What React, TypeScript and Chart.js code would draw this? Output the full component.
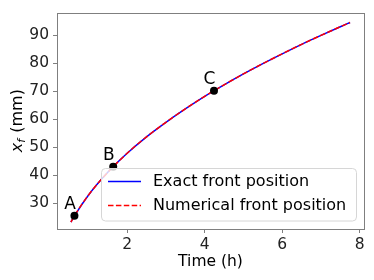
import React, { useEffect, useRef } from 'react';
import { Chart, registerables } from 'chart.js';
Chart.register(...registerables);

const timeH = [0.55, 0.64, 1, 1.5, 2, 2.5, 3, 3.5, 4, 4.5, 5, 5.5, 6, 6.5, 7, 7.5, 7.75];
const exactFront = [23.2, 25.4, 32.8, 41.0, 47.8, 53.7, 58.9, 63.7, 68.2, 72.3, 76.2, 79.9, 83.4, 86.8, 90.0, 93.1, 94.6];
const numericalFront = [23.2, 25.4, 32.8, 41.0, 47.8, 53.7, 58.9, 63.7, 68.2, 72.3, 76.2, 79.9, 83.4, 86.8, 90.0, 93.1, 94.6];
const markerLabels = ['A', 'B', 'C'];
const markerTimes = [0.64, 1.64, 4.24];
const markerFront = [25.4, 43.0, 70.2];
const xTicks = [2, 4, 6, 8];
const yTicks = [30, 40, 50, 60, 70, 80, 90];
const seriesNames = ['Exact front position', 'Numerical front position'];

const FONT = 'DejaVu Sans';
const SPINE = '#7f7f7f';

const overlayPlugin = {
  id: 'overlay',
  afterDraw(chart: any) {
    const ctx = chart.ctx as CanvasRenderingContext2D;
    const a = chart.chartArea;
    ctx.save();
    // frame
    ctx.strokeStyle = SPINE;
    ctx.lineWidth = 1;
    ctx.strokeRect(Math.round(a.left) + 0.5, Math.round(a.top) + 0.5, Math.round(a.right - a.left), Math.round(a.bottom - a.top));

    // marker labels
    const meta = chart.getDatasetMeta(0);
    ctx.fillStyle = '#000';
    ctx.font = `17px "${FONT}"`;
    ctx.textAlign = 'right';
    ctx.textBaseline = 'alphabetic';
    meta.data.forEach((el: any, i: number) => {
      ctx.fillText(markerLabels[i], el.x + 1.5, el.y - 7);
    });

    // legend
    const lx = 101.5, ly = 168.5, lw = 255, lh = 52.5, r = 4;
    ctx.beginPath();
    ctx.moveTo(lx + r, ly);
    ctx.arcTo(lx + lw, ly, lx + lw, ly + lh, r);
    ctx.arcTo(lx + lw, ly + lh, lx, ly + lh, r);
    ctx.arcTo(lx, ly + lh, lx, ly, r);
    ctx.arcTo(lx, ly, lx + lw, ly, r);
    ctx.closePath();
    ctx.fillStyle = 'rgba(255,255,255,0.8)';
    ctx.fill();
    ctx.strokeStyle = '#d6d6d6';
    ctx.lineWidth = 1;
    ctx.stroke();
    const rows = [181.5, 205.5];
    const colors = ['#0000ff', '#ff0000'];
    rows.forEach((ry, i) => {
      ctx.beginPath();
      ctx.strokeStyle = colors[i];
      ctx.lineWidth = 1.5;
      ctx.setLineDash(i === 1 ? [5.5, 2.4] : []);
      ctx.moveTo(108, ry);
      ctx.lineTo(141, ry);
      ctx.stroke();
      ctx.setLineDash([]);
      ctx.fillStyle = '#000';
      ctx.font = `16px "${FONT}"`;
      ctx.textAlign = 'left';
      ctx.textBaseline = 'middle';
      ctx.fillText(seriesNames[i], 153, ry);
    });

    // x title
    ctx.fillStyle = '#000';
    ctx.font = `15.5px "${FONT}"`;
    ctx.textAlign = 'center';
    ctx.textBaseline = 'middle';
    ctx.fillText('Time (h)', (a.left + a.right) / 2, 262);

    // y title with subscript
    ctx.translate(16, (a.top + a.bottom) / 2);
    ctx.rotate(-Math.PI / 2);
    const f1 = `italic 16px "${FONT}"`;
    const f2 = `italic 11px "${FONT}"`;
    const f3 = `16px "${FONT}"`;
    ctx.font = f1; const wx = ctx.measureText('x').width;
    ctx.font = f2; const wf = ctx.measureText('f').width;
    ctx.font = f3; const wr = ctx.measureText(' (mm)').width;
    let x0 = -(wx + wf + wr) / 2;
    ctx.textAlign = 'left';
    ctx.textBaseline = 'alphabetic';
    const base = 5.5;
    ctx.font = f1; ctx.fillText('x', x0, base); x0 += wx;
    ctx.font = f2; ctx.fillText('f', x0, base + 3); x0 += wf + 1;
    ctx.font = f3; ctx.fillText(' (mm)', x0, base);
    ctx.restore();
  },
};

export default function App() {
  const ref = useRef<HTMLCanvasElement | null>(null);
  useEffect(() => {
    document.body.style.margin = '0';
    const canvas = ref.current!;
    const chart = new Chart(canvas, {
      type: 'line',
      data: {
        datasets: [
          {
            type: 'scatter' as any,
            label: 'markers',
            data: markerTimes.map((t, i) => ({ x: t, y: markerFront[i] })),
            backgroundColor: '#000',
            borderColor: '#000',
            borderWidth: 0,
            pointRadius: 4,
            showLine: false,
            order: 0,
          },
          {
            label: seriesNames[1],
            data: timeH.map((t, i) => ({ x: t, y: numericalFront[i] })),
            borderColor: '#ff0000',
            borderWidth: 1.5,
            borderDash: [5.5, 2.4],
            pointRadius: 0,
            fill: false,
            cubicInterpolationMode: 'monotone',
            order: 1,
          },
          {
            label: seriesNames[0],
            data: timeH.map((t, i) => ({ x: t, y: exactFront[i] })),
            borderColor: '#0000ff',
            borderWidth: 1.5,
            pointRadius: 0,
            fill: false,
            cubicInterpolationMode: 'monotone',
            order: 2,
          },
        ],
      },
      options: {
        animation: false,
        responsive: false,
        layout: { padding: { top: 9, right: 10, left: 0, bottom: 0 } },
        plugins: { legend: { display: false }, tooltip: { enabled: false } },
        scales: {
          x: {
            type: 'linear',
            min: 0.19,
            max: 8.11,
            afterBuildTicks: (s: any) => { s.ticks = xTicks.map((v) => ({ value: v })); },
            afterFit: (s: any) => { s.height = 51; },
            grid: { drawOnChartArea: false, drawTicks: true, tickLength: 4, color: SPINE },
            border: { display: true, color: SPINE },
            ticks: { font: { family: FONT, size: 15.5 }, color: '#222', padding: 3, maxRotation: 0 },
          },
          y: {
            type: 'linear',
            min: 20.7,
            max: 97.9,
            afterBuildTicks: (s: any) => { s.ticks = yTicks.map((v) => ({ value: v })); },
            afterFit: (s: any) => { s.width = 57; },
            grid: { drawOnChartArea: false, drawTicks: true, tickLength: 4, color: SPINE },
            border: { display: true, color: SPINE },
            ticks: { font: { family: FONT, size: 15.5 }, color: '#222', padding: 4 },
          },
        },
      },
      plugins: [overlayPlugin],
    });
    return () => chart.destroy();
  }, []);
  return <canvas ref={ref} width={374} height={280} style={{ display: 'block', width: 374, height: 280 }} />;
}
